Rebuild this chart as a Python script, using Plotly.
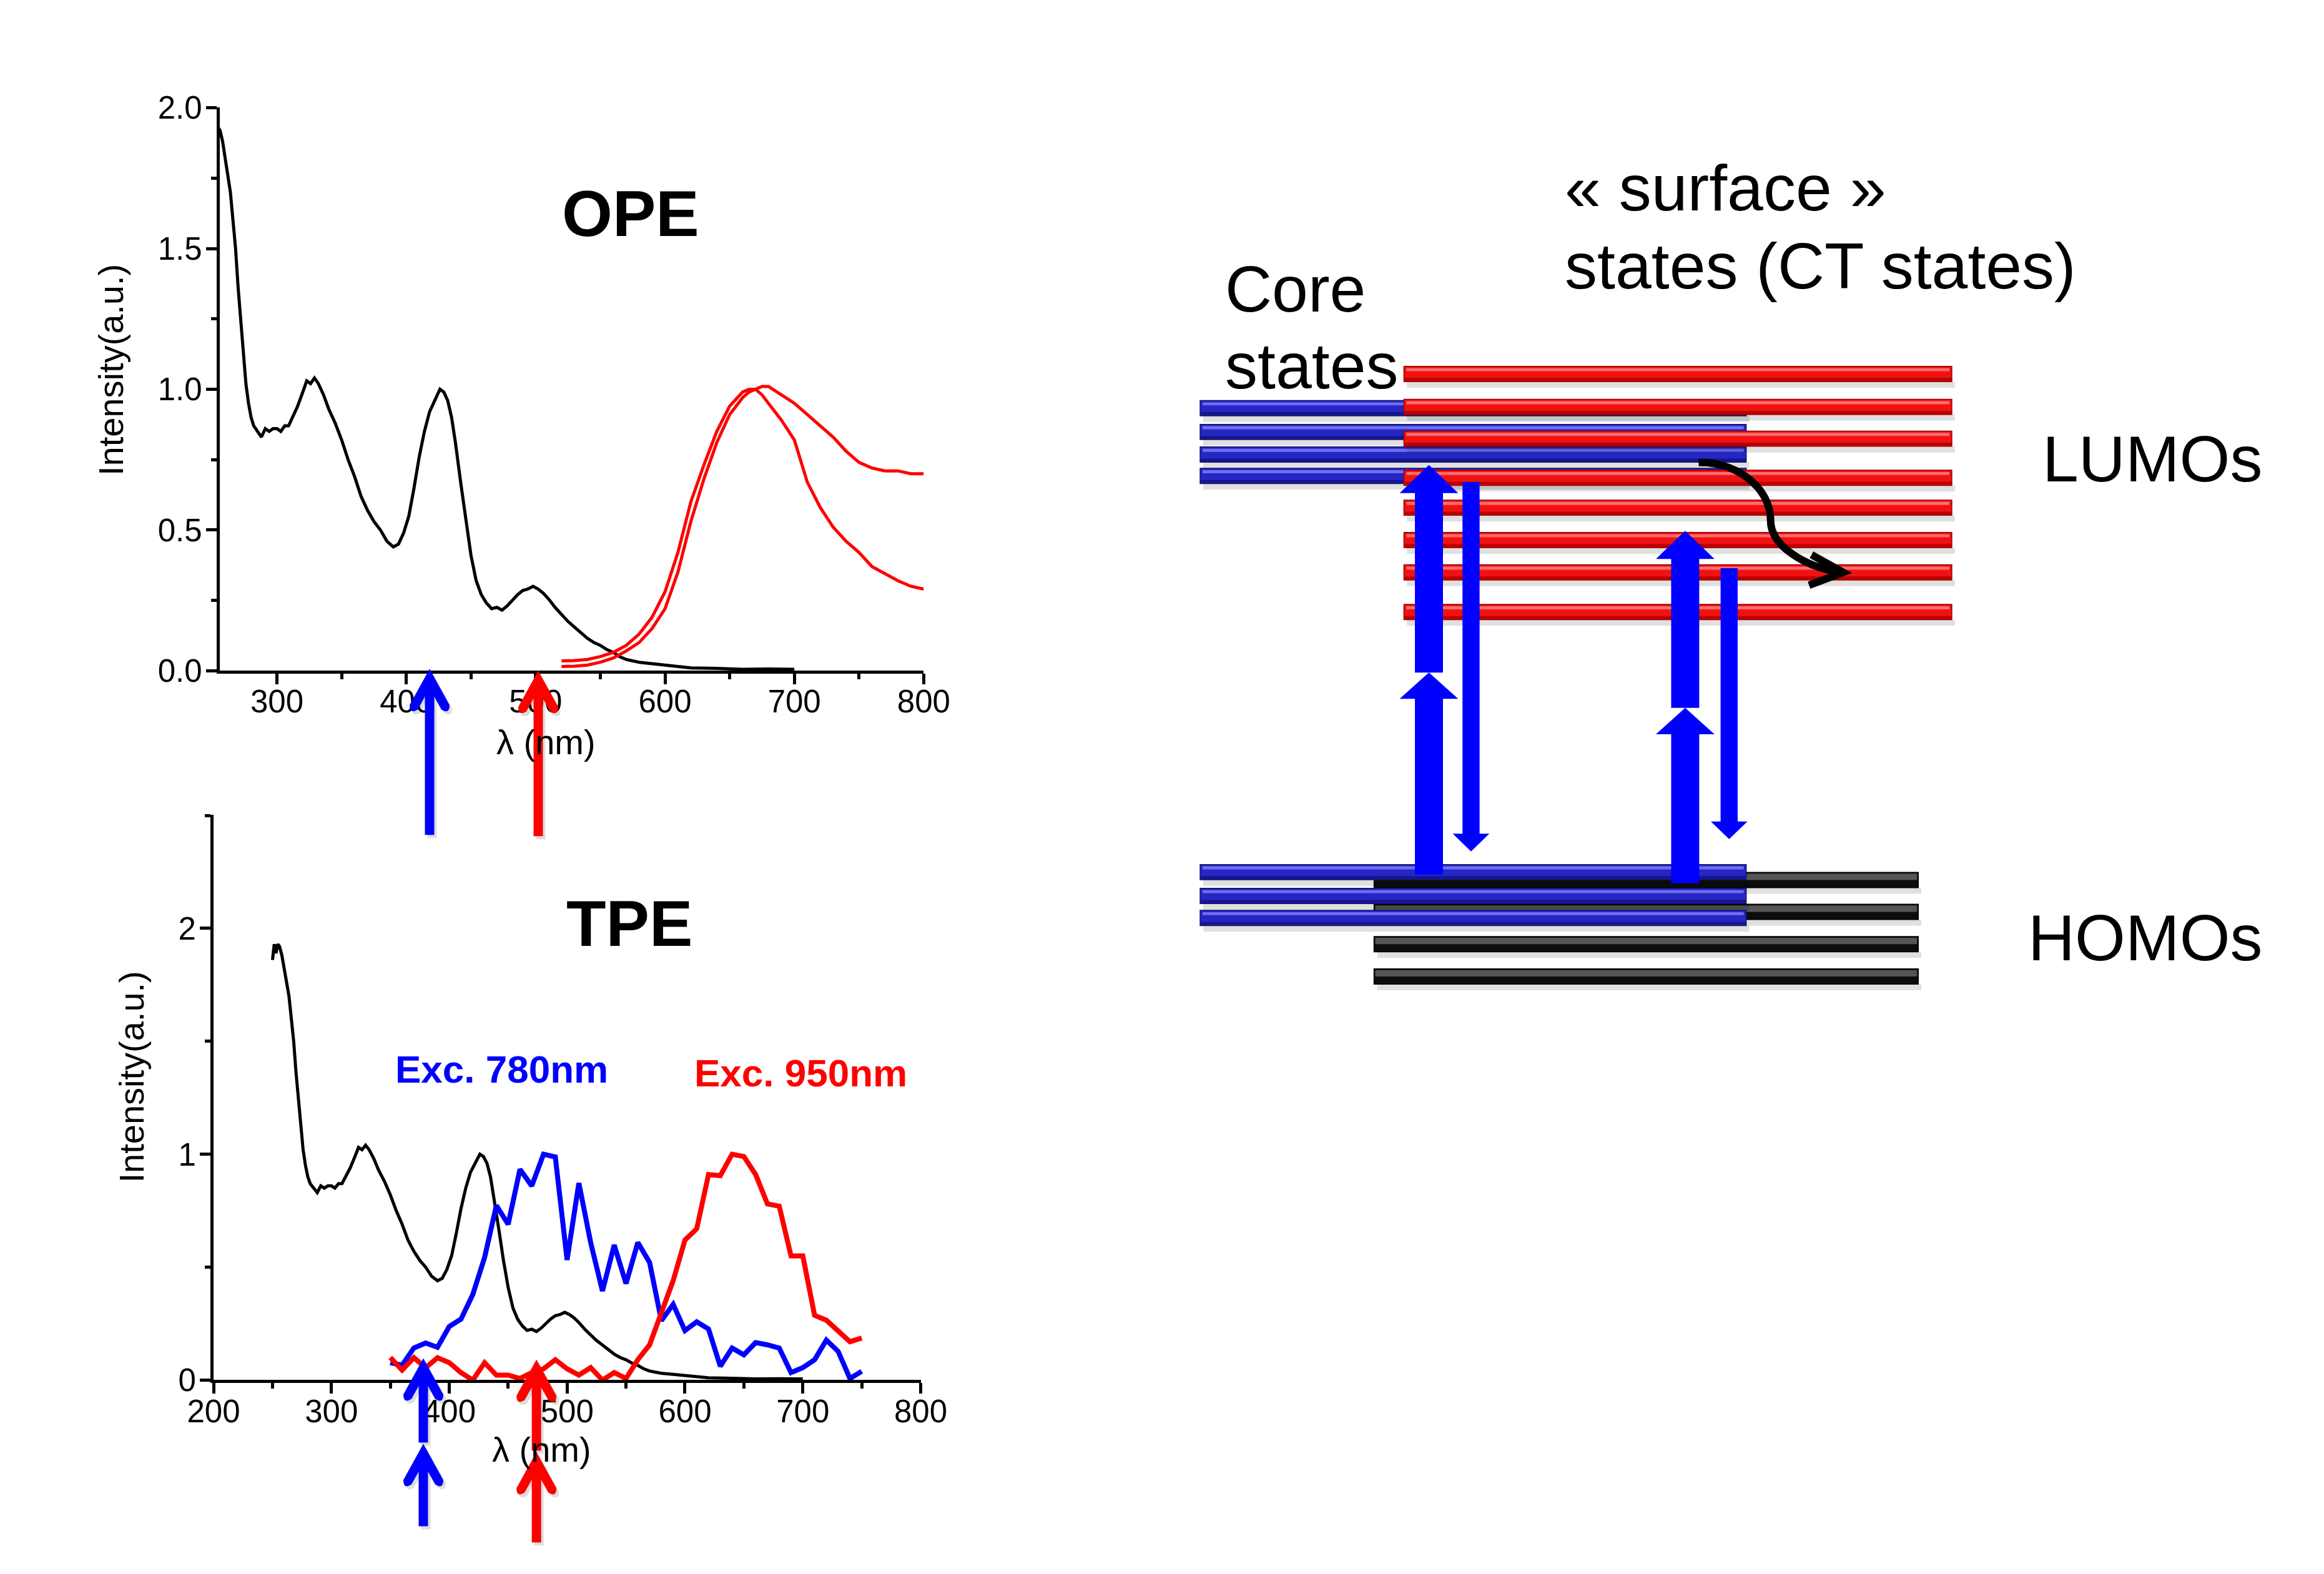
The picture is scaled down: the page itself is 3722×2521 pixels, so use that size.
import math
import plotly.graph_objects as go

W, H = 3722, 2521
FONT = "Liberation Sans, Arial, Helvetica, sans-serif"

# ---------------- data ----------------
# absorption spectrum (black), nm / a.u.
abs_wl = [250, 251.5, 253, 254.5, 256, 258, 260, 262, 264, 266, 268, 270, 272, 274, 276, 278, 280, 282, 285, 288,
          291, 294, 297, 300, 303, 306, 309, 312, 316, 320, 323, 326, 329, 332, 336, 340, 345, 350, 355, 360,
          365, 370, 375, 380, 385, 390, 394, 398, 402, 406, 410, 414, 418, 422, 426, 429, 432, 435, 438, 442,
          446, 450, 454, 458, 462, 466, 470, 474, 478, 482, 486, 490, 494, 498, 502, 506, 510, 515, 520, 525,
          530, 535, 540, 545, 550, 555, 560, 565, 570, 575, 580, 590, 600, 610, 620, 640, 660, 680, 700]
abs_int = [1.86, 1.93, 1.89, 1.93, 1.92, 1.88, 1.82, 1.76, 1.70, 1.60, 1.50, 1.36, 1.24, 1.12, 1.02, 0.95, 0.90, 0.87, 0.85, 0.83,
           0.86, 0.85, 0.86, 0.86, 0.85, 0.87, 0.87, 0.90, 0.94, 0.99, 1.03, 1.02, 1.04, 1.02, 0.98, 0.93, 0.88, 0.82, 0.75, 0.69,
           0.62, 0.57, 0.53, 0.50, 0.46, 0.44, 0.45, 0.49, 0.55, 0.65, 0.76, 0.85, 0.92, 0.96, 1.00, 0.99, 0.96, 0.90, 0.81, 0.67,
           0.53, 0.41, 0.32, 0.27, 0.24, 0.22, 0.225, 0.215, 0.23, 0.25, 0.27, 0.285, 0.29, 0.30, 0.29, 0.275, 0.255, 0.225, 0.20, 0.175,
           0.155, 0.135, 0.115, 0.10, 0.09, 0.075, 0.065, 0.05, 0.04, 0.035, 0.03, 0.025, 0.02, 0.015, 0.01, 0.008, 0.005, 0.006, 0.005]

# one-photon emission spectra (red)
ope_em_wl = [520, 530, 540, 550, 560, 570, 580, 590, 600, 610, 620, 630, 640, 650, 660, 665, 670, 675, 680, 690,
             700, 710, 720, 730, 740, 750, 760, 770, 780, 790, 800]
ope_em_1 = [0.035, 0.036, 0.04, 0.05, 0.065, 0.09, 0.13, 0.19, 0.28, 0.42, 0.60, 0.73, 0.85, 0.94, 0.99, 1.0, 1.0, 0.98, 0.95, 0.89,
            0.82, 0.67, 0.58, 0.51, 0.46, 0.42, 0.37, 0.345, 0.32, 0.30, 0.29]
ope_em_2 = [0.015, 0.016, 0.02, 0.03, 0.045, 0.07, 0.10, 0.15, 0.22, 0.35, 0.53, 0.68, 0.81, 0.91, 0.97, 0.99, 1.0, 1.01, 1.01, 0.98,
            0.95, 0.91, 0.87, 0.83, 0.78, 0.74, 0.72, 0.71, 0.71, 0.70, 0.70]

# two-photon emission spectra
tpe_wl = [350, 360, 370, 380, 390, 400, 410, 420, 430, 440, 450, 460, 470, 480, 490, 500, 510, 520, 530, 540,
          550, 560, 570, 580, 590, 600, 610, 620, 630, 640, 650, 660, 670, 680, 690, 700, 710, 720, 730, 740, 750]
tpe_exc780 = [0.077, 0.066, 0.142, 0.164, 0.145, 0.237, 0.27, 0.379, 0.543, 0.773, 0.69, 0.933, 0.86, 1.0, 0.988, 0.532, 0.872, 0.609, 0.394, 0.598,
              0.427, 0.609, 0.521, 0.263, 0.335, 0.219, 0.258, 0.226, 0.061, 0.142, 0.112, 0.166, 0.156, 0.142, 0.033, 0.055, 0.09, 0.177, 0.127, 0.007, 0.039]
tpe_exc950 = [0.10, 0.044, 0.099, 0.055, 0.099, 0.077, 0.033, 0.0, 0.077, 0.022, 0.022, 0.007, 0.033, 0.05, 0.09, 0.05, 0.022, 0.055, 0.0, 0.033,
              0.007, 0.09, 0.156, 0.30, 0.44, 0.62, 0.67, 0.91, 0.905, 1.0, 0.99, 0.91, 0.78, 0.77, 0.55, 0.55, 0.287, 0.265, 0.215, 0.17, 0.186]

# excitation wavelengths marked by arrows (blue, red)
ope_exc_wl = [418, 502]
tpe_exc_wl = [378, 474]
exc_colors = ["#0000ff", "#ff0000"]

# energy-level diagram (diagram units, y grows downward)
lumo_surface_y = [585, 639, 691, 755, 804, 857, 910, 975]
lumo_core_y = [641, 680, 717, 752]
homo_core_y = [1401, 1440, 1476]
homo_surface_y = [1414, 1466, 1519, 1572]
core_x = [1923, 2818]
lumo_surface_x = [2257, 3155]
homo_surface_x = [2208, 3100]

# transitions: up (absorption, two photons) and down (emission)
up_x = [2298, 2718]
up_tip = [734, 842]
up_mid = [1074, 1132]
up_base = [1405, 1419]
down_x = [2367, 2790]
down_top = [762, 903]
down_tip = [1367, 1347]

# ---------------- layout geometry (pixels) ----------------
def px(x):
    return x / W

def py(y):
    return 1 - y / H

top_xdom = [px(316), px(1470)]
top_ydom = [py(1071), py(148)]
bot_xdom = [px(306), px(1465)]
bot_ydom = [py(2233), py(1307)]

fig = go.Figure()

common = dict(mode="lines", showlegend=False, hoverinfo="skip")
fig.add_trace(go.Scatter(x=abs_wl, y=abs_int, line=dict(color="black", width=5), xaxis="x", yaxis="y", **common))
fig.add_trace(go.Scatter(x=ope_em_wl, y=ope_em_1, line=dict(color="#ff0000", width=5), xaxis="x", yaxis="y", **common))
fig.add_trace(go.Scatter(x=ope_em_wl, y=ope_em_2, line=dict(color="#ff0000", width=5), xaxis="x", yaxis="y", **common))
fig.add_trace(go.Scatter(x=abs_wl, y=abs_int, line=dict(color="black", width=5), xaxis="x2", yaxis="y2", **common))
fig.add_trace(go.Scatter(x=tpe_wl, y=tpe_exc780, line=dict(color="#0000ff", width=8), xaxis="x2", yaxis="y2", **common))
fig.add_trace(go.Scatter(x=tpe_wl, y=tpe_exc950, line=dict(color="#ff0000", width=8), xaxis="x2", yaxis="y2", **common))
fig.add_trace(go.Scatter(x=[None], y=[None], xaxis="x3", yaxis="y3", **common))

axis_style = dict(showline=True, linecolor="black", linewidth=5, ticks="outside", ticklen=17, tickwidth=5,
                  tickcolor="black", showgrid=False, zeroline=False, mirror=False,
                  tickfont=dict(family=FONT, size=51, color="black"))

def minor(d, t0):
    return dict(dtick=d, tick0=t0, ticks="outside", ticklen=9, tickwidth=5, tickcolor="black", showgrid=False)

fig.update_layout(
    width=W, height=H, margin=dict(l=0, r=0, t=0, b=0),
    paper_bgcolor="white", plot_bgcolor="rgba(0,0,0,0)",
    xaxis=dict(domain=top_xdom, range=[255.7, 800.05], tick0=300, dtick=100, anchor="y", minor=minor(50, 250),
               ticklabelstandoff=-16, **axis_style),
    yaxis=dict(domain=top_ydom, range=[0, 2.002], tick0=0, dtick=0.5, tickformat=".1f", anchor="x", minor=minor(0.25, 0),
               ticklabelstandoff=-4, **axis_style),
    xaxis2=dict(domain=bot_xdom, range=[200, 800.05], tick0=200, dtick=100, anchor="y2", minor=minor(50, 200),
                ticklabelstandoff=-16, **axis_style),
    yaxis2=dict(domain=bot_ydom, range=[0, 2.503], tick0=0, dtick=1, tickformat="d", anchor="x2", minor=minor(0.5, 0),
                ticklabelstandoff=-4, **axis_style),
    xaxis3=dict(domain=[0, 1], range=[0, W], visible=False, anchor="y3", fixedrange=True),
    yaxis3=dict(domain=[0, 1], range=[H, 0], visible=False, anchor="x3", fixedrange=True),
)

shapes = []

# ---------- excitation arrows on the spectra ----------
def chevron_head(tip, dx=0.0, Wh=32, D=58, t=15):
    L = math.hypot(Wh, D)
    ux, uy = Wh / L, -D / L
    nx, ny = uy, -ux
    rox, roy = Wh, tip - D
    rix, riy = Wh + t * nx, tip - D + t * ny
    s = -t * nx / ux
    yi = tip + t * ny + s * uy
    cx = (rox + rix) / 2 + ux * t * 0.9
    cy = (roy + riy) / 2 + uy * t * 0.9
    path = (f"M {dx:.1f},{tip:.1f} L {rox + dx:.1f},{roy:.1f} Q {cx + dx:.1f},{cy:.1f} {rix + dx:.1f},{riy:.1f} "
            f"L {dx:.1f},{yi:.1f} L {-rix + dx:.1f},{riy:.1f} Q {-cx + dx:.1f},{cy:.1f} {-rox + dx:.1f},{roy:.1f} Z")
    return path, yi

def plot_arrow(xref, wl, yanchor, color, segments, t=15):
    out = []
    for dx, dy, col in [(4, -5, "rgba(0,0,0,0.13)"), (0, 0, color)]:
        for tip, bottom in segments:
            head, yi = chevron_head(tip + dy, dx)
            shaft = (f"M {-t/2 + dx:.1f},{bottom + dy:.1f} L {t/2 + dx:.1f},{bottom + dy:.1f} "
                     f"L {t/2 + dx:.1f},{yi + 2:.1f} L {-t/2 + dx:.1f},{yi + 2:.1f} Z")
            for p in (shaft, head):
                out.append(dict(type="path", path=p, xref=xref, xsizemode="pixel", xanchor=wl,
                                yref="paper", ysizemode="pixel", yanchor=yanchor,
                                fillcolor=col, line=dict(width=0), layer="above"))
    return out

ope_segments = [[(3, -263)], [(0, -265)]]
tpe_segments = [[(35, -100), (-102, -234)], [(33, -113), (-115, -260)]]
for wl, col, seg in zip(ope_exc_wl, exc_colors, ope_segments):
    shapes += plot_arrow("x", wl, top_ydom[0], col, seg)
for wl, col, seg in zip(tpe_exc_wl, exc_colors, tpe_segments):
    shapes += plot_arrow("x2", wl, bot_ydom[0], col, seg)

# ---------- energy level diagram ----------
PAL = {
    "red": dict(main="#f01212", hi="#ff6d6d", dark="#bb0000", edge="#9a0000"),
    "blue": dict(main="#2626c4", hi="#6e6ef2", dark="#16168c", edge="#10106a"),
    "black": dict(main="#0c0c0c", hi="#555555", dark="#000000", edge="#000000"),
}

def rect(x0, y0, x1, y1, fill, lw=0, lc=None):
    return dict(type="rect", xref="x3", yref="y3", x0=x0, x1=x1, y0=y0, y1=y1, fillcolor=fill, layer="above",
                line=dict(width=lw, color=lc if lc else fill))

def bar(x0, x1, yc, pal, h=25):
    top, bot = yc - h / 2, yc + h / 2
    p = PAL[pal]
    out = [rect(x0 + 5, bot, x1 + 5, bot + 10, "rgba(0,0,0,0.12)"),
           rect(x0, top, x1, bot, p["main"], 1.5, p["edge"])]
    if pal == "black":
        out.append(rect(x0 + 2, top + 2, x1 - 2, yc, p["hi"]))
    else:
        out.append(rect(x0 + 4, top + 3, x1 - 4, top + 8, p["hi"]))
        out.append(rect(x0 + 1, bot - 6, x1 - 1, bot - 1, p["dark"]))
    return out

for y in lumo_core_y:
    shapes += bar(core_x[0], core_x[1], y, "blue")
for y in lumo_surface_y:
    shapes += bar(lumo_surface_x[0], lumo_surface_x[1], y, "red")
for y in homo_surface_y:
    shapes += bar(homo_surface_x[0], homo_surface_x[1], y, "black")
for y in homo_core_y:
    shapes += bar(core_x[0], core_x[1], y, "blue")

def block_arrow(cx, tip, bottom, head_hw, shaft_hw, head_len):
    d = 1 if bottom > tip else -1
    base = tip + d * head_len
    path = (f"M {cx},{tip} L {cx + head_hw},{base} L {cx + shaft_hw},{base} L {cx + shaft_hw},{bottom} "
            f"L {cx - shaft_hw},{bottom} L {cx - shaft_hw},{base} L {cx - head_hw},{base} Z")
    return dict(type="path", path=path, xref="x3", yref="y3", fillcolor="#0000ff", line=dict(width=0), layer="above")

for cx, tip, mid, base in zip(up_x, up_tip, up_mid, up_base):
    shapes.append(block_arrow(cx, tip, mid, 48, 23, 46))
    shapes.append(block_arrow(cx, mid, base, 48, 23, 43))
for cx, top, tip in zip(down_x, down_top, down_tip):
    shapes.append(block_arrow(cx, tip, top, 30, 14, 29))

# non-radiative relaxation towards surface states (curved arrow)
shapes.append(dict(type="path", xref="x3", yref="y3", layer="above", line=dict(color="black", width=12),
                   path="M 2740,730 C 2800,728 2858,770 2858,825 C 2858,865 2910,900 2972,910"))
shapes.append(dict(type="path", xref="x3", yref="y3", layer="above", line=dict(color="black", width=12),
                   path="M 2925,881 L 2977,910 L 2921,931"))

fig.update_layout(shapes=shapes)

# ---------- text ----------
ann = []

def text(x, y, s, size, color="black", xanchor="center", angle=0, ref="paper"):
    if ref == "paper":
        ann.append(dict(x=px(x), y=py(y), xref="paper", yref="paper", text=s, showarrow=False,
                        xanchor=xanchor, yanchor="middle", textangle=angle,
                        font=dict(family=FONT, size=size, color=color)))
    else:
        ann.append(dict(x=x, y=y, xref="x3", yref="y3", text=s, showarrow=False,
                        xanchor=xanchor, yanchor="middle", textangle=angle,
                        font=dict(family=FONT, size=size, color=color)))

text(137, 578, "Intensity(a.u.)", 56, angle=-90)
text(171, 1737, "Intensity(a.u.)", 56, angle=-90)
text(851, 1188, "λ (nm)", 56)
text(844, 2347, "λ (nm)", 56)
text(990, 322, "<b>OPE</b>", 104)
text(988, 1485, "<b>TPE</b>", 104)
text(778, 1724, "<b>Exc. 780nm</b>", 62, color="#0000ff")
text(1268, 1730, "<b>Exc. 950nm</b>", 62, color="#ff0000")

text(2518, 280, "« surface »", 104, xanchor="left", ref="x3")
text(2518, 408, "states (CT states)", 104, xanchor="left", ref="x3")
text(1962, 446, "Core", 104, xanchor="left", ref="x3")
text(1962, 572, "states", 104, xanchor="left", ref="x3")
text(3301, 724, "LUMOs", 104, xanchor="left", ref="x3")
text(3278, 1508, "HOMOs", 104, xanchor="left", ref="x3")

fig.update_layout(annotations=ann)

fig.write_html("out.html", config={"displayModeBar": False},
               post_script="document.body.style.margin='0px';document.body.style.overflow='hidden';")
